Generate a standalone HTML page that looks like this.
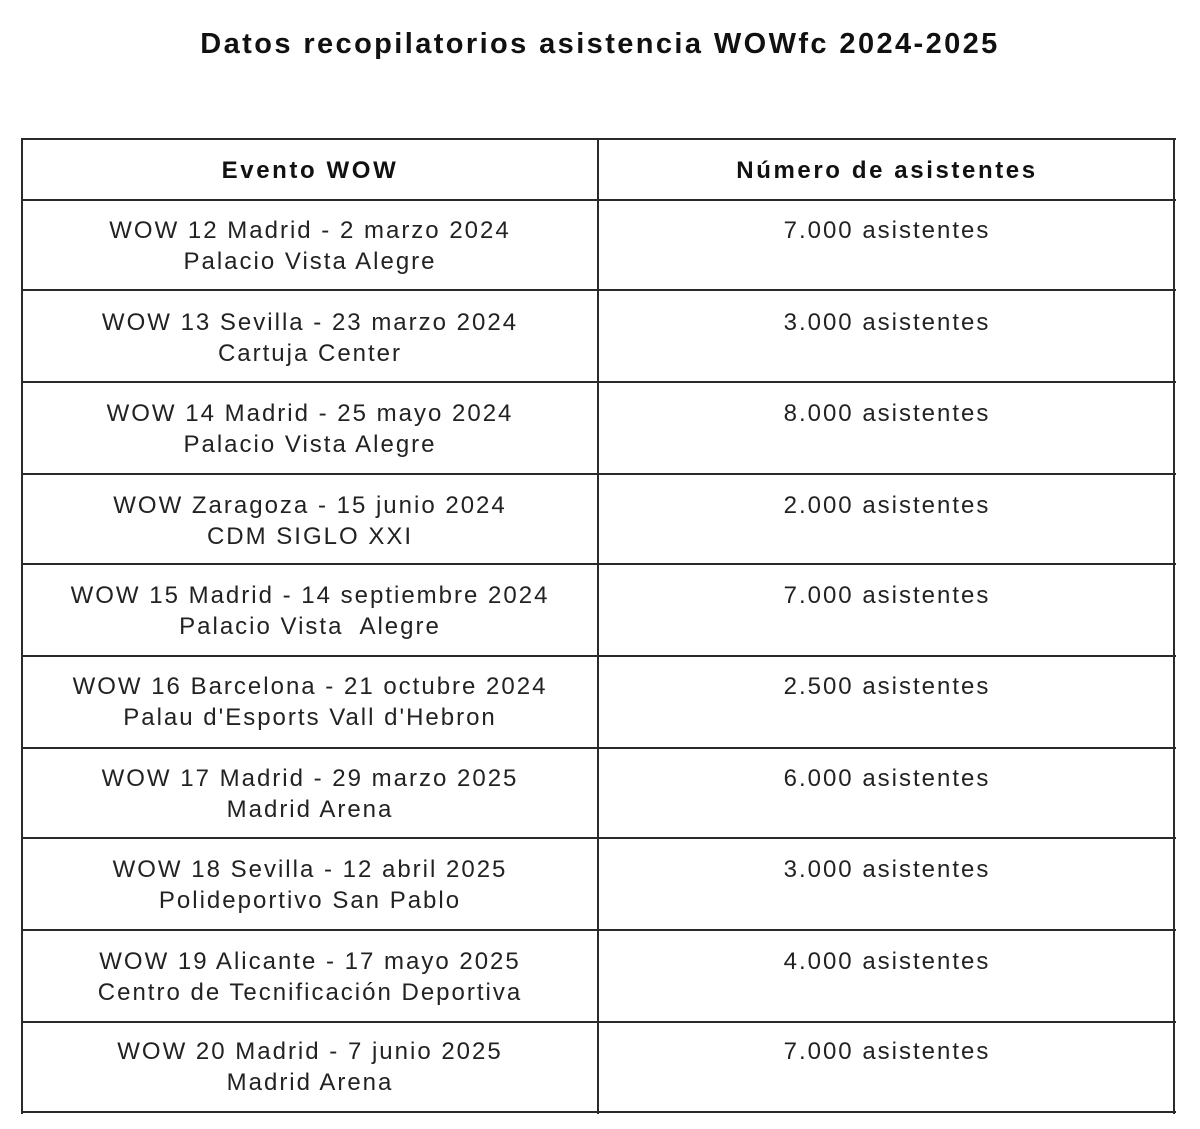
<!DOCTYPE html>
<html><head><meta charset="utf-8"><style>
body{margin:0;width:1200px;height:1129px;background:#fff;position:relative;overflow:hidden;font-family:"Liberation Sans",sans-serif;color:#222}
.t{position:absolute;left:0;width:1200px;top:28px;text-align:center;font-weight:bold;font-size:29px;color:#111;letter-spacing:2.4px}
.h{position:absolute;background:#2a2a2a;height:2px;left:21px;width:1155px}
.v{position:absolute;background:#2a2a2a;width:2px;top:138px;height:976px}
.c{position:absolute;text-align:center;font-size:24px;line-height:31px;white-space:nowrap;letter-spacing:2px}
.l{left:21px;width:578px}.r{left:599px;width:576px}
.hd{font-weight:bold;color:#111;letter-spacing:2.6px}
</style></head><body>
<div class="t">Datos recopilatorios asistencia WOWfc 2024-2025</div>
<div class="h" style="top:138px"></div>
<div class="h" style="top:199px"></div>
<div class="h" style="top:289px"></div>
<div class="h" style="top:381px"></div>
<div class="h" style="top:473px"></div>
<div class="h" style="top:563px"></div>
<div class="h" style="top:655px"></div>
<div class="h" style="top:747px"></div>
<div class="h" style="top:837px"></div>
<div class="h" style="top:929px"></div>
<div class="h" style="top:1021px"></div>
<div class="h" style="top:1111px"></div>
<div class="v" style="left:21px"></div>
<div class="v" style="left:597px"></div>
<div class="v" style="left:1173px"></div>
<div class="c l hd" style="top:155px">Evento WOW</div>
<div class="c r hd" style="top:155px">Número de asistentes</div>

<div class="c l" style="top:215px">WOW 12 Madrid - 2 marzo 2024<br>Palacio Vista Alegre</div>
<div class="c r" style="top:215px">7.000 asistentes</div>
<div class="c l" style="top:307px">WOW 13 Sevilla - 23 marzo 2024<br>Cartuja Center</div>
<div class="c r" style="top:307px">3.000 asistentes</div>
<div class="c l" style="top:398px">WOW 14 Madrid - 25 mayo 2024<br>Palacio Vista Alegre</div>
<div class="c r" style="top:398px">8.000 asistentes</div>
<div class="c l" style="top:490px">WOW Zaragoza - 15 junio 2024<br>CDM SIGLO XXI</div>
<div class="c r" style="top:490px">2.000 asistentes</div>
<div class="c l" style="top:580px">WOW 15 Madrid - 14 septiembre 2024<br>Palacio Vista&nbsp; Alegre</div>
<div class="c r" style="top:580px">7.000 asistentes</div>
<div class="c l" style="top:671px">WOW 16 Barcelona - 21 octubre 2024<br>Palau d'Esports Vall d'Hebron</div>
<div class="c r" style="top:671px">2.500 asistentes</div>
<div class="c l" style="top:763px">WOW 17 Madrid - 29 marzo 2025<br>Madrid Arena</div>
<div class="c r" style="top:763px">6.000 asistentes</div>
<div class="c l" style="top:854px">WOW 18 Sevilla - 12 abril 2025<br>Polideportivo San Pablo</div>
<div class="c r" style="top:854px">3.000 asistentes</div>
<div class="c l" style="top:946px">WOW 19 Alicante - 17 mayo 2025<br>Centro de Tecnificación Deportiva</div>
<div class="c r" style="top:946px">4.000 asistentes</div>
<div class="c l" style="top:1036px">WOW 20 Madrid - 7 junio 2025<br>Madrid Arena</div>
<div class="c r" style="top:1036px">7.000 asistentes</div>
</body></html>
